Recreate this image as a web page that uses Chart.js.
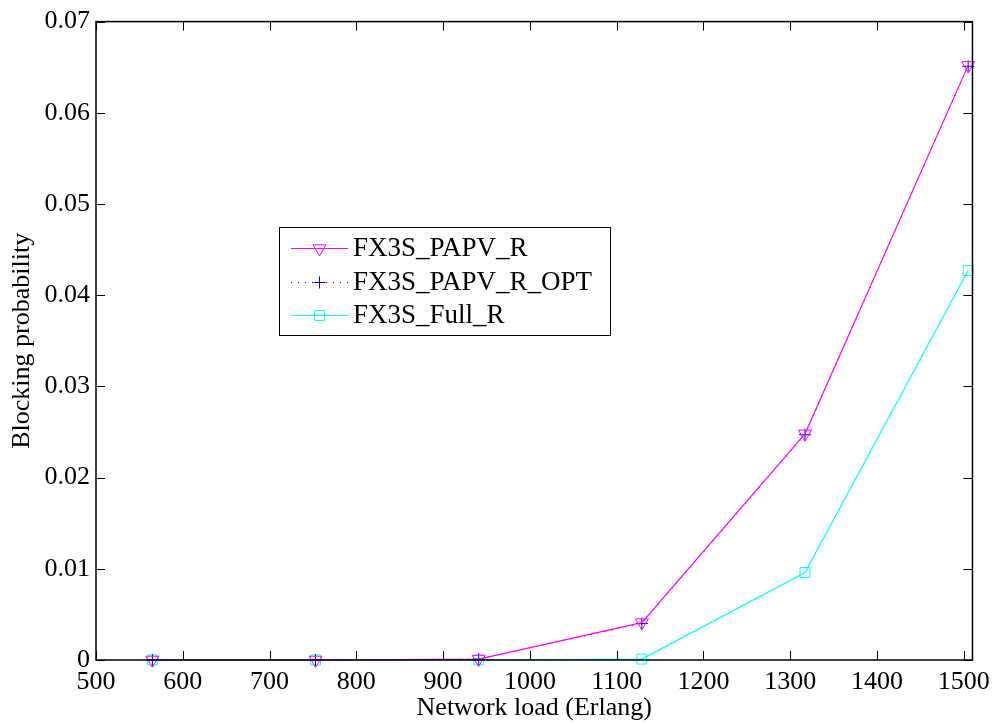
<!DOCTYPE html>
<html>
<head>
<meta charset="utf-8">
<script src="https://cdn.jsdelivr.net/npm/chart.js@4.4.1/dist/chart.umd.min.js"></script>
<style>
html,body{margin:0;padding:0;background:#fff;}
#wrap{width:997px;height:724px;position:relative;}
</style>
</head>
<body>
<div id="wrap"><canvas id="c" width="997" height="724"></canvas></div>
<script>
// ---- data ----
const networkLoad = [565, 753, 941, 1129, 1317, 1505];
const papvR      = [0, 0, 0.0001, 0.0041, 0.0248, 0.0652];
const papvROpt   = [0, 0, 0.0001, 0.0040, 0.0247, 0.0651];
const fullR      = [0, 0, 0, 0.0001, 0.0096, 0.0427];
const seriesNames = ['FX3S_PAPV_R', 'FX3S_PAPV_R_OPT', 'FX3S_Full_R'];
const xTickValues = [500, 600, 700, 800, 900, 1000, 1100, 1200, 1300, 1400, 1500];
const yTickValues = [0, 0.01, 0.02, 0.03, 0.04, 0.05, 0.06, 0.07];
const yTickLabels = ['0', '0.01', '0.02', '0.03', '0.04', '0.05', '0.06', '0.07'];
const xTitle = 'Network load (Erlang)';
const yTitle = 'Blocking probability';

const FONT = "'Liberation Serif', 'Times New Roman', serif";

function pts(ys){ return networkLoad.map((x,i)=>({x:x, y:ys[i]})); }

const frameAndTicks = {
  id: 'frameAndTicks',
  afterDraw(chart){
    const ctx = chart.ctx, a = chart.chartArea;
    const xs = chart.scales.x, ys = chart.scales.y;
    ctx.save();
    ctx.strokeStyle = '#000';
    ctx.lineWidth = 1;
    const L = 9;
    ctx.beginPath();
    xTickValues.forEach(v=>{
      const px = Math.round(xs.getPixelForValue(v)) + 0.5;
      ctx.moveTo(px, a.bottom); ctx.lineTo(px, a.bottom - L);
      ctx.moveTo(px, a.top); ctx.lineTo(px, a.top + L);
    });
    yTickValues.forEach(v=>{
      const py = Math.round(ys.getPixelForValue(v)) + 0.5;
      ctx.moveTo(a.left, py); ctx.lineTo(a.left + L, py);
      ctx.moveTo(a.right, py); ctx.lineTo(a.right - L, py);
    });
    ctx.stroke();
    ctx.lineWidth = 1.5;
    ctx.strokeRect(a.left, a.top, a.right - a.left, a.bottom - a.top);

    // legend box
    const bx = 279.5, by = 227.5, bw = 331, bh = 108;
    ctx.fillStyle = '#fff';
    ctx.fillRect(bx, by, bw, bh);
    ctx.lineWidth = 1;
    ctx.strokeStyle = '#000';
    ctx.strokeRect(bx, by, bw, bh);
    const rowY = [248, 282, 315];
    ctx.font = '27px ' + FONT;
    ctx.textBaseline = 'middle';
    chart.data.datasets.forEach((ds, i)=>{
      const y = rowY[i] + 0.5;
      ctx.save();
      ctx.strokeStyle = ds.borderColor;
      ctx.fillStyle = 'rgba(0,0,0,0)';
      ctx.lineWidth = 1;
      ctx.setLineDash(ds.borderDash || []);
      ctx.beginPath();
      ctx.moveTo(291, y); ctx.lineTo(348, y);
      ctx.stroke();
      ctx.setLineDash([]);
      Chart.helpers.drawPoint(ctx, {
        pointStyle: ds.pointStyle, rotation: ds.pointRotation || 0,
        radius: ds.pointRadius, borderWidth: 1
      }, 319.5, y);
      ctx.restore();
      ctx.fillStyle = '#000';
      ctx.fillText(seriesNames[i], 353, rowY[i] + 1);
    });
    ctx.restore();
  }
};

new Chart(document.getElementById('c'), {
  type: 'line',
  data: {
    datasets: [
      { label: seriesNames[0], data: pts(papvR), borderColor: '#ff00ff', backgroundColor: 'rgba(0,0,0,0)', clip: false,
        borderWidth: 1.2, pointStyle: 'triangle', pointRotation: 180, pointRadius: 7.5, pointBorderWidth: 1, pointBorderColor: '#ff00ff' },
      { label: seriesNames[1], data: pts(papvROpt), borderColor: '#0000ff', backgroundColor: 'rgba(0,0,0,0)', clip: false,
        borderWidth: 1, borderDash: [1, 6], pointStyle: 'cross', pointRadius: 6, pointBorderWidth: 1, pointBorderColor: '#0000ff' },
      { label: seriesNames[2], data: pts(fullR), borderColor: '#00ffff', backgroundColor: 'rgba(0,0,0,0)', clip: false,
        borderWidth: 1.2, pointStyle: 'rect', pointRadius: 7, pointBorderWidth: 1, pointBorderColor: '#00ffff' }
    ]
  },
  options: {
    responsive: false,
    animation: false,
    devicePixelRatio: 1,
    layout: { padding: { left: 0, right: 20, top: 18, bottom: 0 } },
    plugins: { legend: { display: false }, tooltip: { enabled: false } },
    elements: { line: { tension: 0 } },
    scales: {
      x: {
        type: 'linear', min: 500, max: 1510,
        grid: { display: false, drawTicks: false }, border: { display: false },
        afterBuildTicks: s => { s.ticks = xTickValues.map(v=>({value:v})); },
        afterFit: s => { s.height = 64; },
        ticks: { color: '#000', font: { family: FONT, size: 26 }, padding: 7, maxRotation: 0, autoSkip: false,
                 callback: v => String(v) },
        title: { display: true, text: xTitle, color: '#000', font: { family: FONT, size: 26 }, padding: { top: 0, bottom: 0 } }
      },
      y: {
        type: 'linear', min: 0, max: 0.07,
        grid: { display: false, drawTicks: false }, border: { display: false },
        afterBuildTicks: s => { s.ticks = yTickValues.map(v=>({value:v})); },
        afterFit: s => { s.width = 96; },
        ticks: { color: '#000', font: { family: FONT, size: 26 }, padding: 6, autoSkip: false,
                 callback: (v, i) => yTickLabels[i] },
        title: { display: true, text: yTitle, color: '#000', font: { family: FONT, size: 26 }, padding: { top: 7, bottom: 0 } }
      }
    }
  },
  plugins: [frameAndTicks]
});
</script>
</body>
</html>
